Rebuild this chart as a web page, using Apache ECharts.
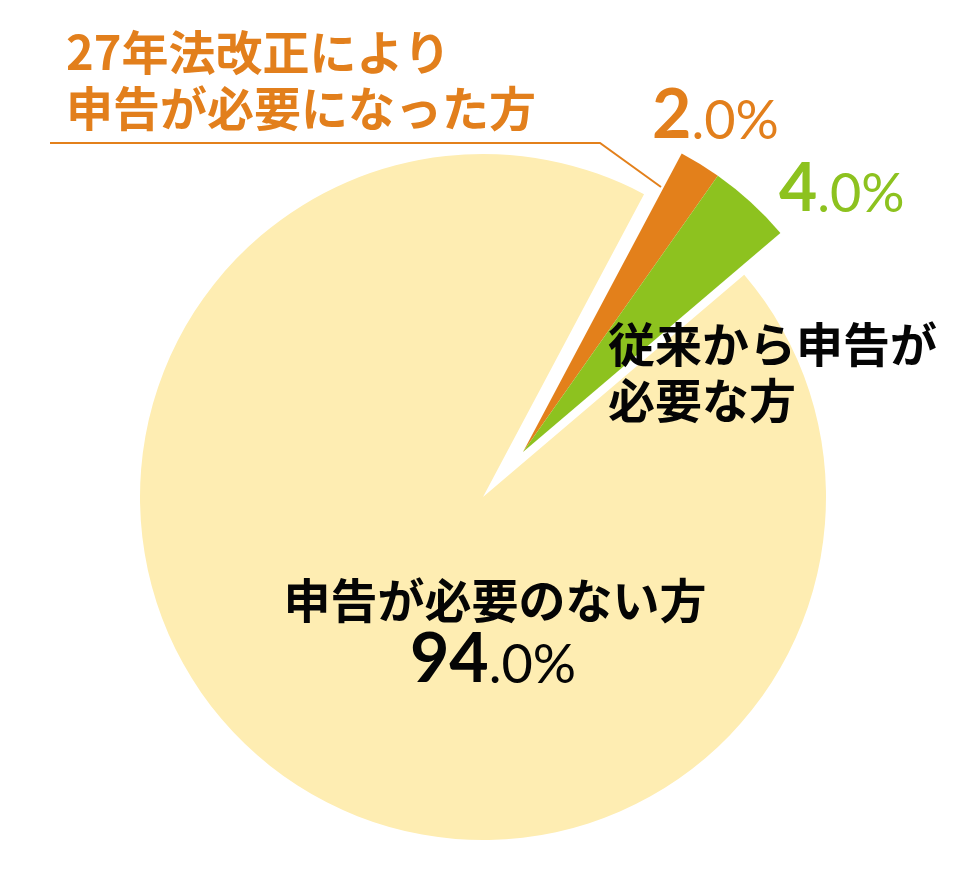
<!DOCTYPE html>
<html><head><meta charset="utf-8">
<script src="https://cdn.jsdelivr.net/npm/echarts@6/dist/echarts.min.js"></script>
<style>html,body{margin:0;padding:0;background:#fff}#c{width:960px;height:879px}</style>
</head><body><div id="c"></div>
<script>
// ---- data ----
const categories = ['27年法改正により申告が必要になった方', '従来から申告が必要な方', '申告が必要のない方'];
const labelLines = [['27年法改正により', '申告が必要になった方'], ['従来から申告が', '必要な方'], ['申告が必要のない方']];
const values = [2.0, 4.0, 94.0];
const exploded = [true, true, false];

// ---- styles ----
const colors = ['#E3801B', '#8DC21F', '#FEEDB2'];
const textColors = ['#E27F1C', '#8DC21F', '#050505'];
const jp = '"Noto Sans CJK JP", "Noto Sans CJK SC", sans-serif';
const num = 'Lato, "Open Sans", sans-serif';

function pieData(showExploded) {
  return values.map((v, i) => ({
    value: v,
    name: categories[i],
    itemStyle: { color: exploded[i] === showExploded ? colors[i] : 'rgba(0,0,0,0)' }
  }));
}
function pctParts(v) {
  const s = v.toFixed(1);
  const k = s.indexOf('.');
  return [s.slice(0, k), s.slice(k) + '%'];
}
const p = values.map(pctParts);

function jpText(str, x, y, color, align) {
  return { type: 'text', z: 100, x: x, y: y,
    style: { text: str, fill: color, font: 'bold 47px ' + jp, align: align || 'left', verticalAlign: 'middle' } };
}
function pctText(parts, x, y, color, bigSize, anchor) {
  return { type: 'text', z: 100, x: x, y: y, style: {
    text: '{a|' + parts[0] + '}{b|' + parts[1] + '}', align: anchor, verticalAlign: 'bottom',
    rich: { a: { fontSize: bigSize, fontWeight: 'bold', fontFamily: num, fill: color, verticalAlign: 'bottom' },
            b: { fontSize: 54, fontWeight: 'normal', fontFamily: num, fill: color, verticalAlign: 'bottom', padding: [0, 0, 1, 0] } } } };
}

const chart = echarts.init(document.getElementById('c'), null, { renderer: 'canvas' });
chart.setOption({
  animation: false,
  backgroundColor: '#ffffff',
  series: [
    {
      type: 'pie', silent: true, center: [483, 497], radius: [0, 343], z: 1,
      startAngle: 62, clockwise: true, label: { show: false }, labelLine: { show: false },
      emphasis: { disabled: true }, data: pieData(false)
    },
    {
      type: 'pie', silent: true, center: [523, 452], radius: [0, 338], z: 1,
      startAngle: 62, clockwise: true, label: { show: false }, labelLine: { show: false },
      emphasis: { disabled: true }, data: pieData(true)
    }
  ],
  graphic: [
    { type: 'polyline', z: 100, shape: { points: [[50, 143], [600, 143], [661, 187]] },
      style: { stroke: colors[0], lineWidth: 2, fill: null } },
    jpText(labelLines[0][0], 66, 52, textColors[0]),
    jpText(labelLines[0][1], 66, 108, textColors[0]),
    jpText(labelLines[1][0], 608, 344, textColors[2]),
    jpText(labelLines[1][1], 608, 400, textColors[2]),
    jpText(labelLines[2][0], 495, 600, textColors[2], 'center'),
    pctText(p[2], 493, 694, textColors[2], 68, 'center'),
    pctText(p[0], 652, 150, textColors[0], 68, 'left'),
    pctText(p[1], 779, 223, textColors[1], 66, 'left')
  ]
});
</script></body></html>
